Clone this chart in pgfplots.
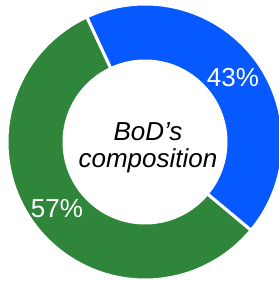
\documentclass[border=0pt]{standalone}
\usepackage{pgfplots}
\pgfplotsset{compat=1.18}
\usepackage{pgfplotstable}
\usepackage{fontspec}
\setmainfont{Liberation Sans}
\definecolor{bodblue}{RGB}{6,88,255}
\definecolor{bodgreen}{RGB}{47,133,57}
\pgfplotstableread{
label share
Blue 43
Green 57
}\shares
\begin{document}
\begin{tikzpicture}
\path[use as bounding box] (0,0) rectangle (279pt,282pt);
\begin{axis}[at={(0,0)}, anchor=south west,
  width=279pt, height=282pt, scale only axis,
  xmin=0, xmax=279, ymin=0, ymax=282, hide axis, clip=true]
% start angle 115 deg, clockwise; 43% -> 154.8 deg
\addplot[fill=bodblue, draw=white, line width=3pt, domain={115-43*3.6}:115, samples=120, variable=\t]
  ({145+138*cos(t)},{140+138*sin(t)}) -- (axis cs:145,140) -- cycle;
\addplot[fill=bodgreen, draw=white, line width=3pt, domain={115-360}:{115-43*3.6}, samples=160, variable=\t]
  ({145+138*cos(t)},{140+138*sin(t)}) -- (axis cs:145,140) -- cycle;
\addplot[fill=white, draw=none, domain=0:360, samples=160, variable=\t]
  ({145+82.5*cos(t)},{140+82.5*sin(t)}) -- cycle;
\node[anchor=base, text=white, font=\fontsize{26}{28}\selectfont] at (axis cs:233,196) {43\%};
\node[anchor=base, text=white, font=\fontsize{26}{28}\selectfont] at (axis cs:57,65) {57\%};
\node[anchor=base, text=black, font=\fontsize{26}{28}\selectfont\itshape] at (axis cs:148,142) {BoD’s};
\node[anchor=base, text=black, font=\fontsize{26}{28}\selectfont\itshape] at (axis cs:148,115) {composition};
\end{axis}
\end{tikzpicture}
\end{document}
